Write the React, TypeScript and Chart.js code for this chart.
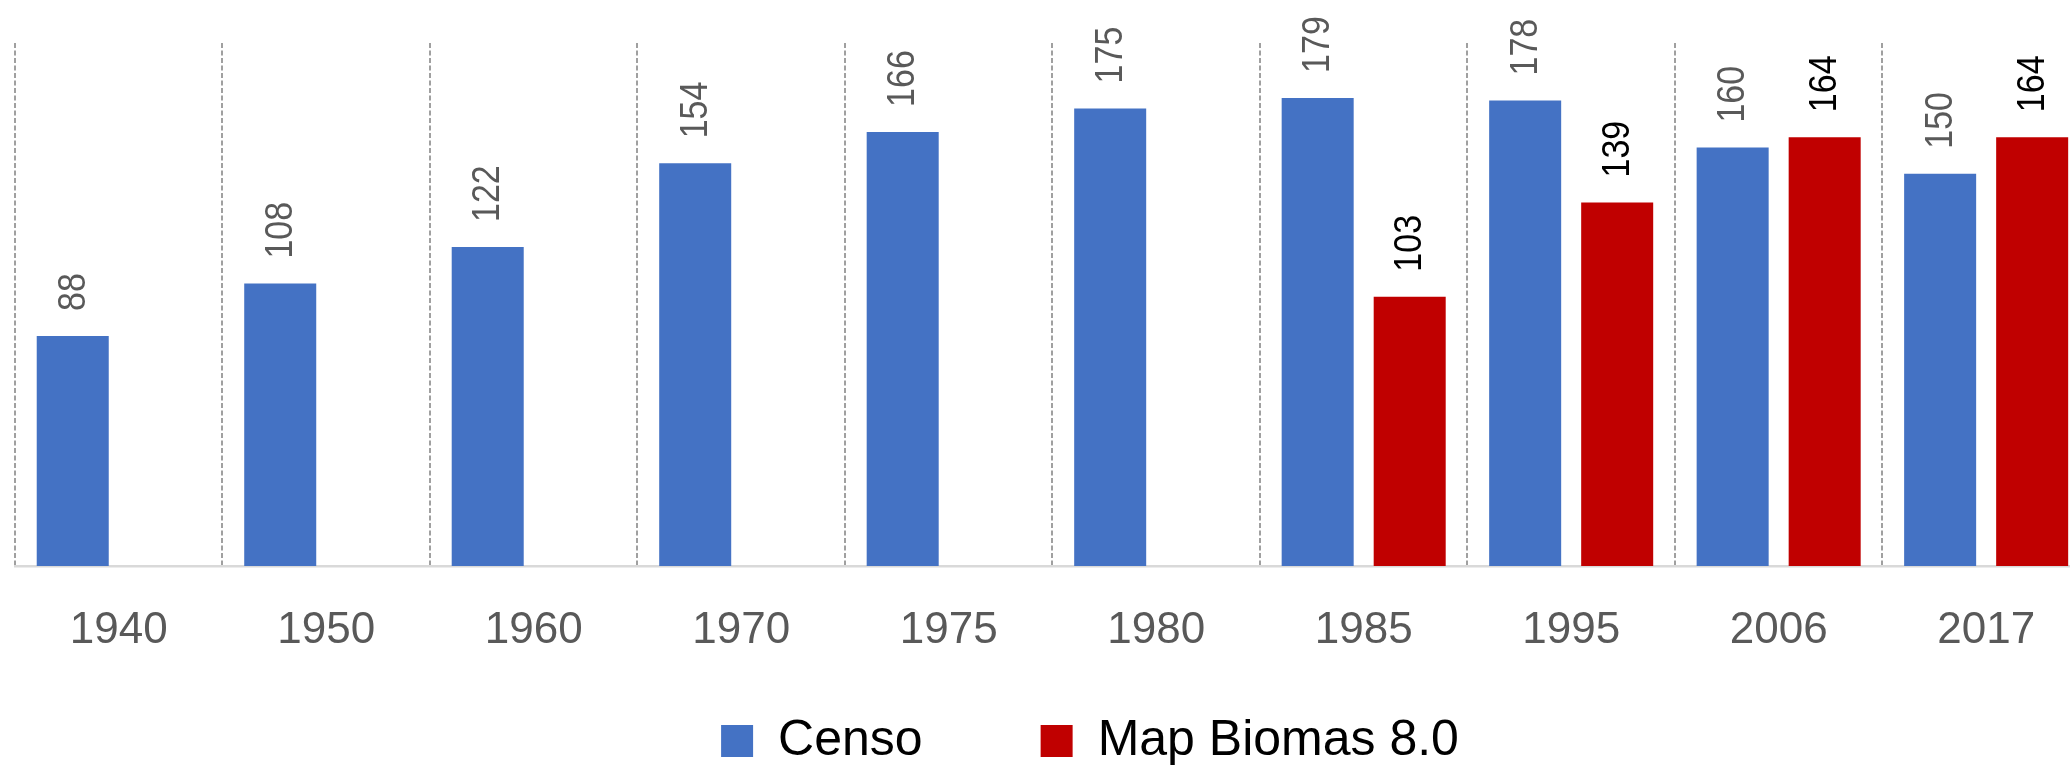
import React, { useEffect, useRef } from "react";
import { Chart, registerables } from "chart.js";

Chart.register(...registerables);

const categories = ["1940", "1950", "1960", "1970", "1975", "1980", "1985", "1995", "2006", "2017"];
const censo = [88, 108, 122, 154, 166, 175, 179, 178, 160, 150];
const mapBiomas = [null, null, null, null, null, null, 103, 139, 164, 164];
const seriesNames = ["Censo", "Map Biomas 8.0"];
const seriesColors = ["#4472C4", "#C00000"];
const labelColors = ["#595959", "#000000"];
const yMin = 0;
const yMax = 200;

const barLabelPlugin = {
  id: "barLabels",
  afterDatasetsDraw(chart: any) {
    const ctx = chart.ctx;
    chart.data.datasets.forEach((ds: any, di: number) => {
      const meta = chart.getDatasetMeta(di);
      meta.data.forEach((el: any, i: number) => {
        const v = ds.data[i];
        if (v == null) return;
        ctx.save();
        ctx.translate(el.x + 1, el.y - 25);
        ctx.rotate(-Math.PI / 2);
        ctx.scale(1, 1.15);
        ctx.font = '34px "Liberation Sans", Arial, sans-serif';
        ctx.fillStyle = labelColors[di];
        ctx.textAlign = "left";
        ctx.textBaseline = "middle";
        ctx.fillText(String(v), 0, 0);
        ctx.restore();
      });
    });
  },
};

export default function App() {
  const ref = useRef<HTMLCanvasElement | null>(null);

  useEffect(() => {
    if (!ref.current) return;
    const chart = new Chart(ref.current, {
      type: "bar",
      data: {
        labels: categories,
        datasets: [
          {
            label: seriesNames[0],
            data: censo,
            backgroundColor: seriesColors[0],
            categoryPercentage: 0.887,
            barPercentage: 0.7826,
          },
          {
            label: seriesNames[1],
            data: mapBiomas as any,
            backgroundColor: seriesColors[1],
            categoryPercentage: 0.887,
            barPercentage: 0.7826,
          },
        ],
      },
      options: {
        responsive: false,
        animation: false,
        devicePixelRatio: 1,
        layout: { padding: { left: 15, top: 43, right: 0, bottom: 0 } },
        plugins: {
          tooltip: { enabled: false },
          legend: {
            position: "bottom",
            labels: {
              boxWidth: 32,
              boxHeight: 32,
              padding: 68,
              color: "#000000",
              font: { family: '"Liberation Sans", Arial, sans-serif', size: 50 },
              generateLabels: (chart: any) => {
                const items = Chart.defaults.plugins.legend.labels.generateLabels(chart);
                // extra spacing after the first entry, as in the reference legend
                items.forEach((it: any, idx: number) => {
                  if (idx === 0) it.text = it.text + "\u2002\u2002";
                });
                return items;
              },
            },
          },
        },
        scales: {
          x: {
            type: "category",
            offset: true,
            grid: {
              display: true,
              offset: true,
              drawTicks: false,
              color: "#A0A0A0",
              lineWidth: 2,
            },
            border: { display: true, color: "#D9D9D9", width: 2.5, dash: [5, 2.5] },
            ticks: {
              color: "#595959",
              font: { family: '"Liberation Sans", Arial, sans-serif', size: 44 },
              padding: 38,
              autoSkip: false,
              maxRotation: 0,
              minRotation: 0,
            },
            afterFit: (axis: any) => {
              axis.height = 82;
            },
          },
          y: {
            position: "right",
            min: yMin,
            max: yMax,
            grid: { display: false },
            border: { display: false },
            ticks: { display: false },
            afterFit: (axis: any) => {
              axis.width = 75.1;
            },
          },
        },
      },
      plugins: [barLabelPlugin],
    });
    return () => chart.destroy();
  }, []);

  return (
    <div
      style={{
        position: "fixed",
        left: 0,
        top: 0,
        width: 2070,
        height: 766,
        overflow: "hidden",
        background: "#ffffff",
      }}
    >
      <canvas ref={ref} width={2165} height={776} style={{ display: "block", width: 2165, height: 776 }} />
    </div>
  );
}
